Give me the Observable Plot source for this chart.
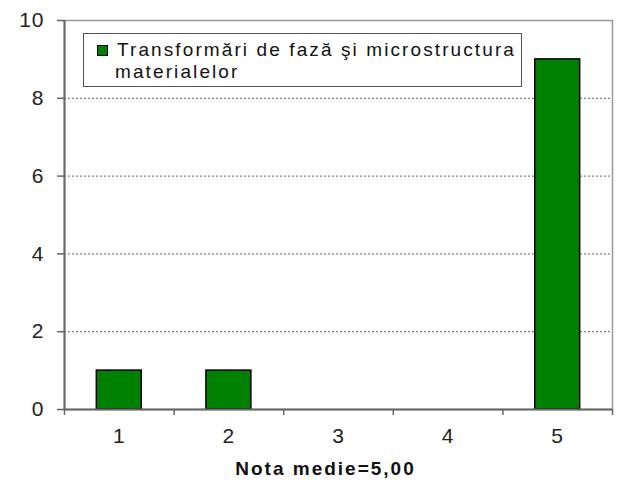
<!DOCTYPE html>
<html>
<head>
<meta charset="utf-8">
<script src="https://cdn.jsdelivr.net/npm/d3@7"></script>
<script src="https://cdn.jsdelivr.net/npm/@observablehq/plot@0.6"></script>
<style>
  body { margin: 0; background: #fff; }
  #wrap { position: relative; width: 622px; height: 486px; font-family: "Liberation Sans", Arial, sans-serif; }
  #wrap svg text { letter-spacing: 1px; }
  #wrap svg .xtitle text { letter-spacing: 2px; }
  #legend { position: absolute; left: 83px; top: 33px; width: 437px; height: 52px; border: 1px solid #555; background: #fff; font-size: 19px; color: #111; box-sizing: content-box; letter-spacing: 2.1px; }
  #legend .sw { position: absolute; left: 13px; top: 11px; width: 9px; height: 9px; background: #008000; border: 1px solid #000; }
  #legend .tx { position: absolute; left: 33px; top: 5px; line-height: 22px; white-space: nowrap; }
  #legend .tx2 { position: absolute; left: 31px; top: 27px; line-height: 22px; white-space: nowrap; }
</style>
</head>
<body>
<div id="wrap"></div>
<script>
const categories = [1, 2, 3, 4, 5];
const counts = [1, 1, 0, 0, 9];
const yTicks = [0, 2, 4, 6, 8, 10];
const gridValues = [2, 4, 6, 8];
const seriesName = ["Transformări de fază şi microstructura", "materialelor"];
const xTitle = "Nota medie=5,00";

const data = categories.map((k, i) => ({k, v: counts[i]}));
const half = 0.205;
const boundaries = d3.range(categories.length + 1).map(i => categories[0] - 0.5 + i);

const chart = Plot.plot({
  width: 622,
  height: 486,
  marginLeft: 64,
  marginRight: 10,
  marginTop: 20,
  marginBottom: 77,
  style: {fontFamily: "'Liberation Sans', Arial, sans-serif", background: "#fff", color: "#222"},
  x: {type: "linear", domain: [0.5, 5.5]},
  y: {domain: [0, 10]},
  marks: [
    Plot.ruleY(gridValues, {stroke: "#666", strokeDasharray: "2,2", strokeWidth: 1}),
    Plot.frame({stroke: "#999", strokeWidth: 1.5}),
    Plot.rectY(data, {x1: d => d.k - half, x2: d => d.k + half, y: "v", fill: "#008000", stroke: "#000", strokeWidth: 1.5}),
    Plot.ruleY([0], {stroke: "#666", strokeWidth: 2}),
    Plot.ruleX([0.5], {stroke: "#666", strokeWidth: 2}),
    Plot.axisY({ticks: yTicks, tickSize: 7, tickPadding: 13, fontSize: 21, stroke: "#666", strokeWidth: 1.5, label: null, tickFormat: d => String(d)}),
    Plot.axisX({ticks: boundaries, tickSize: 6, tickFormat: () => "", stroke: "#666", strokeWidth: 1.5, label: null}),
    Plot.axisX({ticks: categories, tickSize: 0, tickPadding: 19, fontSize: 21, label: null, tickFormat: d => String(d)}),
    Plot.text([xTitle], {text: d => d, frameAnchor: "bottom", dy: 65, dx: -13, fontWeight: "bold", fontSize: 19, fill: "#111", className: "xtitle"})
  ]
});

const wrap = document.getElementById("wrap");
wrap.appendChild(chart);
const lg = document.createElement("div");
lg.id = "legend";
lg.innerHTML = `<div class="sw"></div><div class="tx">${seriesName[0]}</div><div class="tx2">${seriesName[1]}</div>`;
wrap.appendChild(lg);
</script>
</body>
</html>
